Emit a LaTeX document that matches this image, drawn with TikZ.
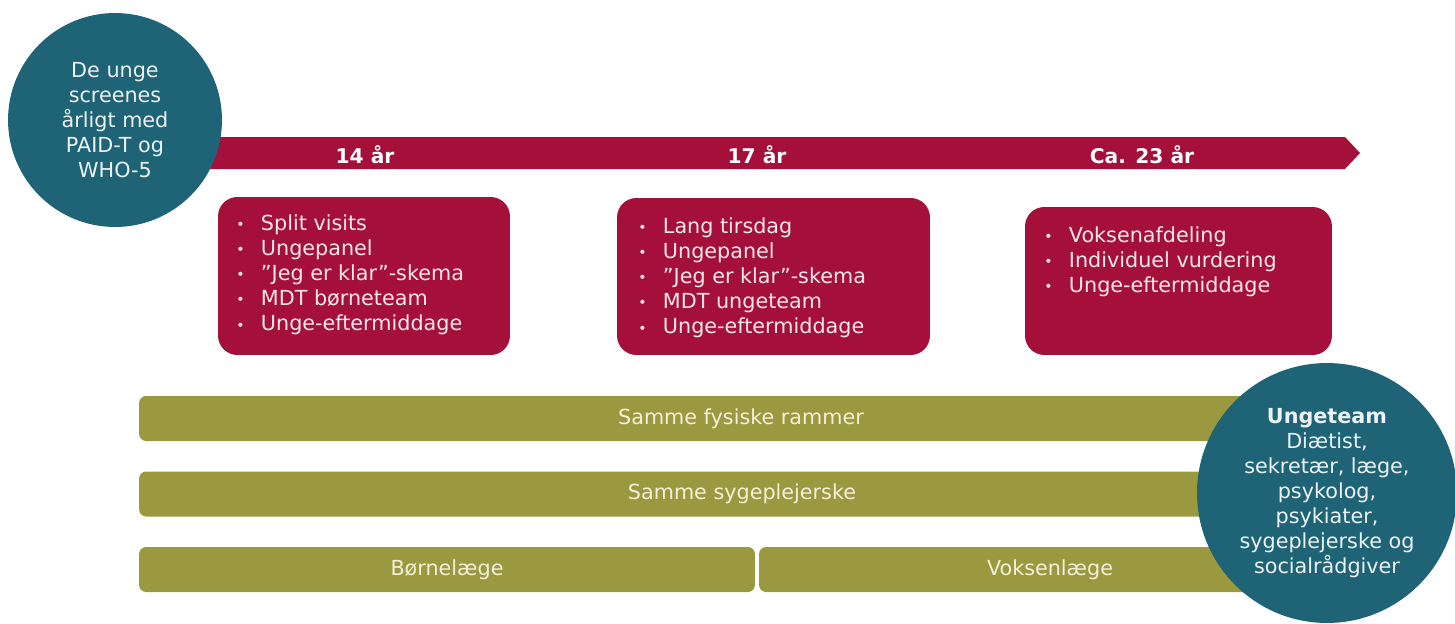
\documentclass[tikz,border=0pt]{standalone}
\usepackage{fontspec}
\setmainfont{DejaVu Sans}
\usepackage{xcolor}
\usepackage{tikz}
\usetikzlibrary{positioning,calc}
\definecolor{TeamTeal}{HTML}{1F6377}
\definecolor{PathRed}{HTML}{A5103B}
\definecolor{FrameOlive}{HTML}{9B993F}
\definecolor{FrameText}{HTML}{F3F0DA}
\newcommand{\bul}[1]{\makebox[14pt][l]{\raisebox{0.3pt}{\footnotesize\textbullet}}#1}

\begin{document}
\begin{tikzpicture}[
  x=0.02cm, y=-0.02cm,
  font=\fontsize{11.8}{14.3}\selectfont,
  circ/.style={circle,fill=TeamTeal,text=white!92!TeamTeal,align=center,inner sep=0pt},
  stage/.style={fill=PathRed,rounded corners=11pt,minimum height=3.16cm},
  items/.style={text=white!90!PathRed,align=left,inner sep=0pt,anchor=north west},
  age/.style={text=white,font=\fontsize{11.5}{14}\selectfont\bfseries},
  frame/.style={fill=FrameOlive,text=FrameText,rounded corners=4pt,minimum height=0.9cm,inner sep=0pt},
]
\useasboundingbox (0,0) rectangle (1455,623);

\fill[PathRed] (115,137) -- (1345,137) -- (1360,153) -- (1345,169) -- (115,169) -- cycle;
\node[age] (a14) at (365,155) {14 år};
\node[age] (a17) at (757,155) {17 år};
\node[age] (a23) at (1142,155) {Ca. 23 år};

\node[circ,minimum size=4.28cm] (screen) at (115,120)
  {De unge\\screenes\\årligt med\\PAID-T og\\WHO-5};

\node[stage,minimum width=5.84cm] (s14) at (364,276) {};
\node[stage,minimum width=6.26cm,minimum height=3.14cm] (s17) at (773.5,276.5) {};
\node[stage,minimum width=6.14cm,minimum height=2.96cm] (s23) at (1178.5,281) {};

\node[items] (l14) at (236,214)
  {\bul{Split visits}\\\bul{Ungepanel}\\\bul{”Jeg er klar”-skema}\\\bul{MDT børneteam}\\\bul{Unge-eftermiddage}};
\node[items] (l17) at (638,217)
  {\bul{Lang tirsdag}\\\bul{Ungepanel}\\\bul{”Jeg er klar”-skema}\\\bul{MDT ungeteam}\\\bul{Unge-eftermiddage}};
\node[items] (l23) at (1044,226)
  {\bul{Voksenafdeling}\\\bul{Individuel vurdering}\\\bul{Unge-eftermiddage}};

\node[frame,minimum width=24.08cm] (f1) at (741,418.5) {Samme fysiske rammer};
\node[frame,minimum width=24.12cm] (f2) at (742,494) {Samme sygeplejerske};
\node[frame,minimum width=12.32cm] (f3a) at (447,569.5) {Børnelæge};
\node[frame,minimum width=11.64cm] (f3b) at (1050,569.5) {Voksenlæge};

\node[circ,minimum size=5.2cm] (team) at (1327,493)
  {\textbf{Ungeteam}\\Diætist,\\sekretær, læge,\\psykolog,\\psykiater,\\sygeplejerske og\\socialrådgiver};
\end{tikzpicture}
\end{document}
